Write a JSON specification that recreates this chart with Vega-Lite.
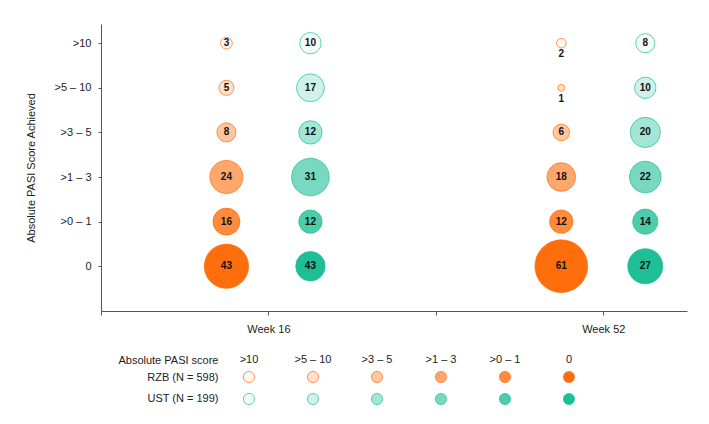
{
  "$schema": "https://vega.github.io/schema/vega-lite/v6.json",
  "padding": {"left": 25, "top": 24, "right": 5, "bottom": 5},
  "config": {
    "font": "Liberation Sans",
    "view": {"stroke": null},
    "axis": {"grid": false, "labelFontSize": 11, "labelColor": "#222", "domainColor": "#555", "tickColor": "#555", "titleFontSize": 11, "titleFontWeight": "normal", "titleColor": "#222"}
  },
  "datasets": {
    "pasi": [
      {"week": "Week 16", "group": "RZB", "score": ">10", "n": 3, "bubble": 3},
      {"week": "Week 16", "group": "RZB", "score": ">5 – 10", "n": 5, "bubble": 5},
      {"week": "Week 16", "group": "RZB", "score": ">3 – 5", "n": 8, "bubble": 8},
      {"week": "Week 16", "group": "RZB", "score": ">1 – 3", "n": 24, "bubble": 24},
      {"week": "Week 16", "group": "RZB", "score": ">0 – 1", "n": 16, "bubble": 16},
      {"week": "Week 16", "group": "RZB", "score": "0", "n": 43, "bubble": 43},
      {"week": "Week 16", "group": "UST", "score": ">10", "n": 10, "bubble": 10},
      {"week": "Week 16", "group": "UST", "score": ">5 – 10", "n": 17, "bubble": 17},
      {"week": "Week 16", "group": "UST", "score": ">3 – 5", "n": 12, "bubble": 12},
      {"week": "Week 16", "group": "UST", "score": ">1 – 3", "n": 31, "bubble": 31},
      {"week": "Week 16", "group": "UST", "score": ">0 – 1", "n": 12, "bubble": 12},
      {"week": "Week 16", "group": "UST", "score": "0", "n": 43, "bubble": 19},
      {"week": "Week 52", "group": "RZB", "score": ">10", "n": 2, "bubble": 2},
      {"week": "Week 52", "group": "RZB", "score": ">5 – 10", "n": 1, "bubble": 1},
      {"week": "Week 52", "group": "RZB", "score": ">3 – 5", "n": 6, "bubble": 6},
      {"week": "Week 52", "group": "RZB", "score": ">1 – 3", "n": 18, "bubble": 18},
      {"week": "Week 52", "group": "RZB", "score": ">0 – 1", "n": 12, "bubble": 12},
      {"week": "Week 52", "group": "RZB", "score": "0", "n": 61, "bubble": 61},
      {"week": "Week 52", "group": "UST", "score": ">10", "n": 8, "bubble": 8},
      {"week": "Week 52", "group": "UST", "score": ">5 – 10", "n": 10, "bubble": 10},
      {"week": "Week 52", "group": "UST", "score": ">3 – 5", "n": 20, "bubble": 20},
      {"week": "Week 52", "group": "UST", "score": ">1 – 3", "n": 22, "bubble": 22},
      {"week": "Week 52", "group": "UST", "score": ">0 – 1", "n": 14, "bubble": 14},
      {"week": "Week 52", "group": "UST", "score": "0", "n": 27, "bubble": 27}
    ]
  },
  "spacing": 19,
  "resolve": {"scale": {"x": "independent", "y": "independent"}},
  "vconcat": [
    {
      "width": 586,
      "height": 287,
      "data": {"name": "pasi"},
      "encoding": {
        "x": {"field": "week", "type": "nominal",
          "scale": {"type": "point", "domain": ["start", "Week 16", "mid", "Week 52"], "padding": 0.25, "align": 0},
          "axis": {"title": null, "labelExpr": "indexof(['Week 16','Week 52'], datum.value) >= 0 ? datum.value : ''", "tickSize": 4, "labelPadding": 8, "labelAngle": 0}},
        "xOffset": {"field": "group", "type": "nominal", "scale": {"domain": ["RZB", "UST"], "range": [-84, 84]}},
        "y": {"field": "score", "type": "nominal",
          "scale": {"type": "point", "domain": [">10", ">5 – 10", ">3 – 5", ">1 – 3", ">0 – 1", "0"], "padding": 0.717, "align": 0.3},
          "axis": {"title": "Absolute PASI Score Achieved", "tickSize": 3, "labelPadding": 7, "titlePadding": 17}}
      },
      "layer": [
        {
          "mark": {"type": "circle", "opacity": 1, "strokeWidth": 1, "strokeOpacity": 0.7},
          "encoding": {
            "size": {"field": "bubble", "type": "quantitative", "scale": {"type": "linear", "zero": true, "domain": [0, 61], "range": [0, 2780]}, "legend": null},
            "fill": {"field": "group", "type": "nominal", "scale": {"domain": ["RZB", "UST"], "range": ["#FF6E0C", "#1EBF96"]}, "legend": null},
            "stroke": {"field": "group", "type": "nominal", "scale": {"domain": ["RZB", "UST"], "range": ["#FF6E0C", "#1EBF96"]}, "legend": null},
            "fillOpacity": {"field": "score", "type": "nominal", "scale": {"type": "ordinal", "domain": [">10", ">5 – 10", ">3 – 5", ">1 – 3", ">0 – 1", "0"], "range": [0.05, 0.21, 0.4, 0.6, 0.8, 1]}, "legend": null}
          }
        },
        {
          "transform": [{"filter": "datum.n >= 3"}],
          "mark": {"type": "text", "fontWeight": "bold", "fontSize": 10, "color": "#111"},
          "encoding": {"text": {"field": "n", "type": "quantitative"}}
        },
        {
          "transform": [{"filter": "datum.n < 3"}],
          "mark": {"type": "text", "fontWeight": "bold", "fontSize": 10, "color": "#111", "dy": 11},
          "encoding": {"text": {"field": "n", "type": "quantitative"}}
        }
      ]
    },
    {
      "width": 512,
      "height": 40,
      "data": {"name": "pasi"},
      "transform": [{"filter": "datum.week == 'Week 16'"}],
      "mark": {"type": "circle", "size": 125, "opacity": 1, "strokeWidth": 1, "strokeOpacity": 0.7},
      "encoding": {
        "x": {"field": "score", "type": "nominal",
          "scale": {"type": "band", "domain": [">10", ">5 – 10", ">3 – 5", ">1 – 3", ">0 – 1", "0"], "paddingInner": 0, "paddingOuter": 1, "align": 0.906},
          "axis": {"orient": "top", "domain": false, "ticks": false, "tickSize": 0, "labelPadding": 4, "labelAngle": 0, "title": "Absolute PASI score", "titleX": 117, "titleY": -8, "titleAlign": "right", "titleBaseline": "middle", "titleAngle": 0}},
        "y": {"field": "group", "type": "nominal",
          "scale": {"type": "point", "domain": ["RZB", "UST"], "padding": 0.41},
          "axis": {"title": null, "domain": false, "ticks": false, "tickSize": 0, "labelPadding": 0, "offset": -117, "labelExpr": "datum.value == 'RZB' ? 'RZB (N = 598)' : 'UST (N = 199)'"}},
        "fill": {"field": "group", "type": "nominal", "scale": {"domain": ["RZB", "UST"], "range": ["#FF6E0C", "#1EBF96"]}, "legend": null},
        "stroke": {"field": "group", "type": "nominal", "scale": {"domain": ["RZB", "UST"], "range": ["#FF6E0C", "#1EBF96"]}, "legend": null},
        "fillOpacity": {"field": "score", "type": "nominal", "scale": {"type": "ordinal", "domain": [">10", ">5 – 10", ">3 – 5", ">1 – 3", ">0 – 1", "0"], "range": [0.05, 0.21, 0.4, 0.6, 0.8, 1]}, "legend": null}
      }
    }
  ]
}
